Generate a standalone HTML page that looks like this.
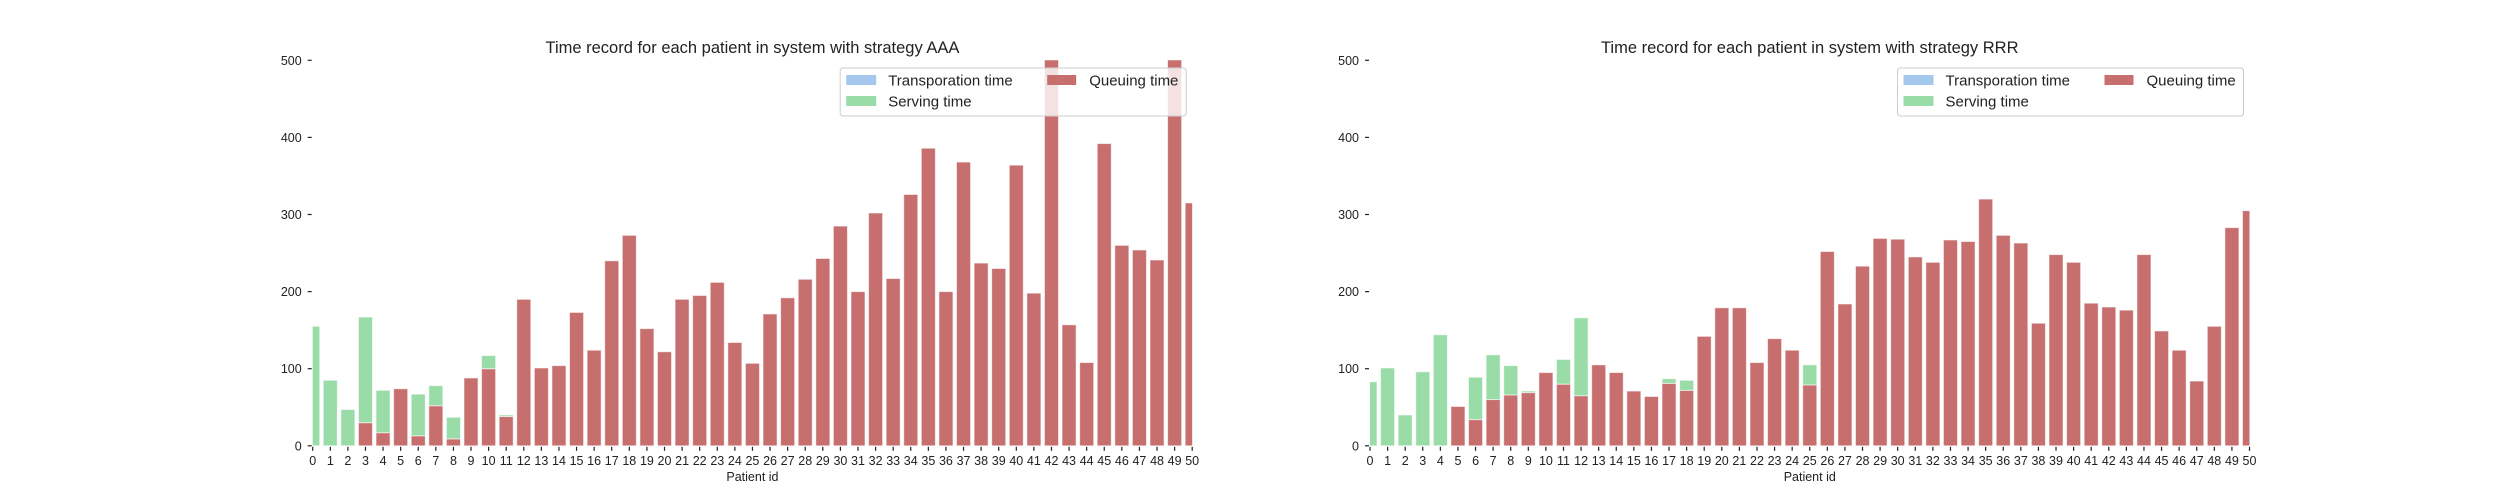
<!DOCTYPE html>
<html><head><meta charset="utf-8">
<style>
html,body{margin:0;padding:0;background:#fff;}
svg{display:block;font-family:"Liberation Sans",Arial,sans-serif;}
</style></head>
<body>
<svg id="chart" width="2500" height="500" viewBox="0 0 2500 500" xmlns="http://www.w3.org/2000/svg">
<rect x="0" y="0" width="2500" height="500" fill="#fff"/>
</svg>
<script>
const patientIds = Array.from({length:51},(_,i)=>i);
const yTicks = [0,100,200,300,400,500];
const queueAAA = [0,0,0,30,17,74,13,52,9,88,100,38,190,101,104,173,124,240,273,152,122,190,195,212,134,107,171,192,216,243,285,200,302,217,326,386,200,368,237,230,364,198,560,157,108,392,260,254,241,560,315];
const serveAAA = [155,85,47,137,55,0,54,26,28,0,17,2,0,0,0,0,0,0,0,0,0,0,0,0,0,0,0,0,0,0,0,0,0,0,0,0,0,0,0,0,0,0,0,0,0,0,0,0,0,0,0];
const transAAA = [0,0,0,0,0,0,0,0,0,0,0,0,0,0,0,0,0,0,0,0,0,0,0,0,0,0,0,0,0,0,0,0,0,0,0,0,0,0,0,0,0,0,0,0,0,0,0,0,0,0,0];
const queueRRR = [0,0,0,0,0,51,34,60,66,69,95,80,65,105,95,71,64,81,72,142,179,179,108,139,124,79,252,184,233,269,268,245,238,267,265,320,273,263,159,248,238,185,180,176,248,149,124,84,155,283,305];
const serveRRR = [83,101,40,96,144,0,55,58,38,2,0,32,101,0,0,0,0,6,13,0,0,0,0,0,0,26,0,0,0,0,0,0,0,0,0,0,0,0,0,0,0,0,0,0,0,0,0,0,0,0,0];
const transRRR = [0,0,0,0,0,0,0,0,0,0,0,0,0,0,0,0,0,0,0,0,0,0,0,0,0,0,0,0,0,0,0,0,0,0,0,0,0,0,0,0,0,0,0,0,0,0,0,0,0,0,0];

const NS="http://www.w3.org/2000/svg";
const svg=document.getElementById('chart');
function mk(tag,attrs,parent){const e=document.createElementNS(NS,tag);for(const k in attrs)e.setAttribute(k,attrs[k]);(parent||svg).appendChild(e);return e;}

const RED="#c76f6f", GREEN="#99dca8", BLUE="#a5c8ef";

function drawPanel(x0,title,queue,serve,trans,key){
  const x1=x0+879.5, y0=445.8, yTop=60.3;
  const xs=v=>x0+(v-0)/(50-0)*(x1-x0);
  const ys=v=>y0-(v/500)*(y0-yTop);
  const g=mk('g',{});
  
  
  const clipId='clip-'+key;
  const cp=mk('clipPath',{id:clipId},g);
  mk('rect',{x:x0,y:yTop,width:x1-x0,height:y0-yTop},cp);
  const bars=mk('g',{'clip-path':'url(#'+clipId+')'},g);
  
  
  const bw=(x1-x0)/50*0.8;
  patientIds.forEach((id,i)=>{
    const cx=xs(id);
    let base=0;
    const segs=[[queue[i],RED,'queue'],[serve[i],GREEN,'serving'],[trans[i],BLUE,'transport']];
    segs.forEach(s=>{
      if(s[0]>0){
        const r=mk('rect',{x:cx-bw/2,y:ys(base+s[0]),width:bw,height:ys(base)-ys(base+s[0]),fill:s[1],stroke:'#fff','stroke-opacity':'0.6','stroke-width':'1'},bars);
        
        
        base+=s[0];
      }
    });
  });
  yTicks.forEach(t=>{
    const y=ys(t);
    mk('line',{x1:x0-5,x2:x0-1,y1:y,y2:y,stroke:'#222','stroke-width':'1.2'},g);
    const tx=mk('text',{x:x0-11,y:y+4.5,'text-anchor':'end','font-size':'12.5',fill:'#222'},g);
    tx.textContent=t;
    
    
  });
  patientIds.forEach(id=>{
    const x=xs(id);
    mk('line',{x1:x,x2:x,y1:y0+1,y2:y0+5,stroke:'#222','stroke-width':'1.2'},g);
    const tx=mk('text',{x:x,y:y0+19,'text-anchor':'middle','font-size':'12.5',fill:'#222'},g);
    tx.textContent=id;
    
    
  });
  const xl=mk('text',{x:(x0+x1)/2,y:481,'text-anchor':'middle','font-size':'12.5',fill:'#222'},g);
  xl.textContent='Patient id';
  
  
  const tt=mk('text',{x:(x0+x1)/2,y:53,'text-anchor':'middle','font-size':'16.5',fill:'#222'},g);
  tt.textContent=title;
  
  
  const lg=mk('g',{},g);
  
  
  const lx=x1-352, ly=68;
  mk('rect',{x:lx,y:ly,width:346,height:48,rx:3,fill:'#fff','fill-opacity':'0.8',stroke:'#ccc','stroke-width':'1'},lg);
  const entries=[[lx+6,ly+12,BLUE,'Transporation time'],[lx+6,ly+33,GREEN,'Serving time'],[lx+207,ly+12,RED,'Queuing time']];
  entries.forEach(e=>{
    const eg=mk('g',{},lg);
    
    
    mk('rect',{x:e[0],y:e[1]-5,width:e[3]==='Queuing time'?29:30,height:10,fill:e[2]},eg);
    const t=mk('text',{x:e[0]+42,y:e[1]+5.5,'font-size':'15',fill:'#222'},eg);
    t.textContent=e[3];
  });
}
drawPanel(312.7,'Time record for each patient in system with strategy AAA',queueAAA,serveAAA,transAAA,'aaa');
drawPanel(1370,'Time record for each patient in system with strategy RRR',queueRRR,serveRRR,transRRR,'rrr');
</script>
</body></html>
